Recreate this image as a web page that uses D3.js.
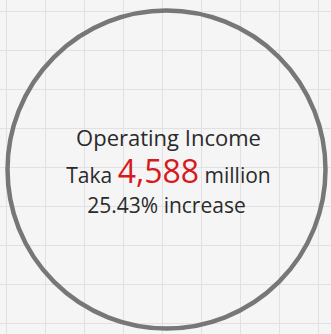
<!DOCTYPE html>
<html>
<head>
<meta charset="utf-8">
<script src="https://cdn.jsdelivr.net/npm/d3@7"></script>
<style>
  html, body { margin: 0; padding: 0; background: #f5f5f5; }
  svg { display: block; }
</style>
</head>
<body>
<div id="chart"></div>
<script>
// values
const title = ["Operating Income"];
const currency = ["Taka"];
const amount = [4588];
const unit = ["million"];
const growth = [25.43];
const gridCols = d3.range(0, 9);   // vertical grid lines
const gridRows = d3.range(0, 9);   // horizontal grid lines

const width = 331, height = 334;

let svg = d3.select('#chart')
    .append('svg')
        .attr("width", width)
        .attr("height", height);

svg.append('rect')
    .attr("width", width)
    .attr("height", height)
    .attr("fill", "#f5f5f5");

// grid scales (one cell ~39px)
let gx = d3.scaleLinear().domain([0, 8]).range([6.5, 318.5]);
let gy = d3.scaleLinear().domain([0, 8]).range([11.5, 323.5]);

svg.append('g').selectAll('line')
    .data(gridCols)
    .enter().append('line')
        .attr("x1", d => gx(d)).attr("x2", d => gx(d))
        .attr("y1", 0).attr("y2", height)
        .attr("stroke", "#e1e1e1")
        .attr("stroke-width", 1);

svg.append('g').selectAll('line')
    .data(gridRows)
    .enter().append('line')
        .attr("y1", d => gy(d)).attr("y2", d => gy(d))
        .attr("x1", 0).attr("x2", width)
        .attr("stroke", "#e1e1e1")
        .attr("stroke-width", 1);

// the ring
let cx = 166.5, cy = 169.5;
svg.append('circle')
    .attr("cx", cx)
    .attr("cy", cy)
    .attr("r", 159)
    .attr("fill", "none")
    .attr("stroke", "#777777")
    .attr("stroke-width", 4.5);

let font = "'Open Sans', 'Noto Sans', sans-serif";

//line 1
svg.append('text')
    .attr("x", cx + 2)
    .attr("y", 146)
    .attr("text-anchor", "middle")
    .attr("font-family", font)
    .attr("font-size", 22)
    .attr("fill", "#2a2a2a")
    .text(title[0]);

//line 2
let line2 = svg.append('text')
    .attr("x", cx + 2)
    .attr("y", 183)
    .attr("text-anchor", "middle")
    .attr("font-family", font)
    .attr("font-size", 21)
    .attr("fill", "#2a2a2a");
line2.append('tspan').text(currency[0] + " ");
line2.append('tspan')
    .attr("font-size", 32)
    .attr("fill", "#d71920")
    .text(d3.format(",")(amount[0]));
line2.append('tspan').text(" " + unit[0]);

//line 3
svg.append('text')
    .attr("x", cx)
    .attr("y", 213)
    .attr("text-anchor", "middle")
    .attr("font-family", font)
    .attr("font-size", 21)
    .attr("fill", "#2a2a2a")
    .text(d3.format(".2f")(growth[0]) + "% increase");
</script>
</body>
</html>
